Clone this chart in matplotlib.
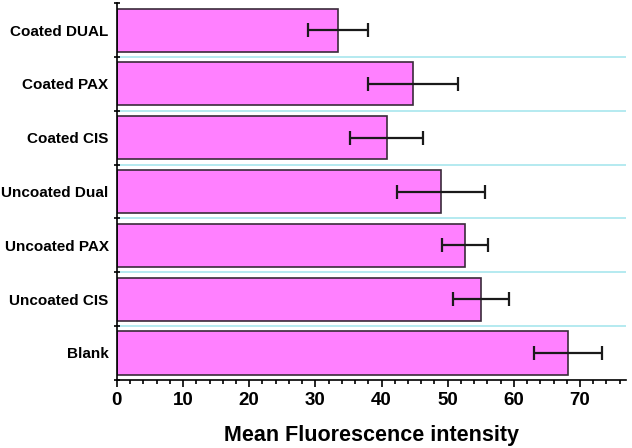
import numpy as np
import matplotlib.pyplot as plt
from matplotlib.ticker import MultipleLocator

plt.rcParams['font.family'] = ['Liberation Sans', 'DejaVu Sans']

# bottom to top
categories = ["Blank", "Uncoated CIS", "Uncoated PAX", "Uncoated Dual",
              "Coated CIS", "Coated PAX", "Coated DUAL"]
means = [68.2, 55.0, 52.6, 49.0, 40.8, 44.7, 33.4]
errors = [5.2, 4.2, 3.5, 6.6, 5.5, 6.8, 4.5]

fig = plt.figure(figsize=(6.32, 4.48), dpi=100)
ax = fig.add_axes([0.185, 0.152, 0.806, 0.841])

y = np.arange(len(categories))
for b in y[:-1] + 0.5:
    ax.axhline(b, color="#a8e6ee", lw=1.2, zorder=0)

ax.barh(y, means, height=0.8, color="#ff80ff", edgecolor="#3a2a3a",
        linewidth=1.2, zorder=2)
ax.errorbar(means, y, xerr=errors, fmt="none", ecolor="#1a1a1a",
            elinewidth=1.6, capsize=5, capthick=1.6, zorder=3)

ax.set_xlim(0, 77)
ax.set_ylim(-0.5, len(categories) - 0.5)
ax.xaxis.set_major_locator(MultipleLocator(10))
ax.xaxis.set_minor_locator(MultipleLocator(2))
ax.set_yticks(y)
ax.set_yticklabels(categories, fontsize=11, fontweight="bold")
ax.set_yticks(np.arange(-0.5, len(categories)), minor=True)
ax.tick_params(axis="y", which="major", length=0, pad=6)
ax.tick_params(axis="y", which="minor", length=5, width=1.2, direction="inout")
ax.tick_params(axis="x", which="major", length=5, width=1.2, labelsize=13.5, pad=4)
ax.tick_params(axis="x", which="minor", length=3, width=1.2)
for lab in ax.get_xticklabels():
    lab.set_fontweight("bold")

for s in ["top", "right"]:
    ax.spines[s].set_visible(False)
for s in ["left", "bottom"]:
    ax.spines[s].set_linewidth(1.2)

ax.set_xlabel("Mean Fluorescence intensity", fontsize=15.5, fontweight="bold",
              labelpad=11)

fig.savefig("out.png", dpi=100)
